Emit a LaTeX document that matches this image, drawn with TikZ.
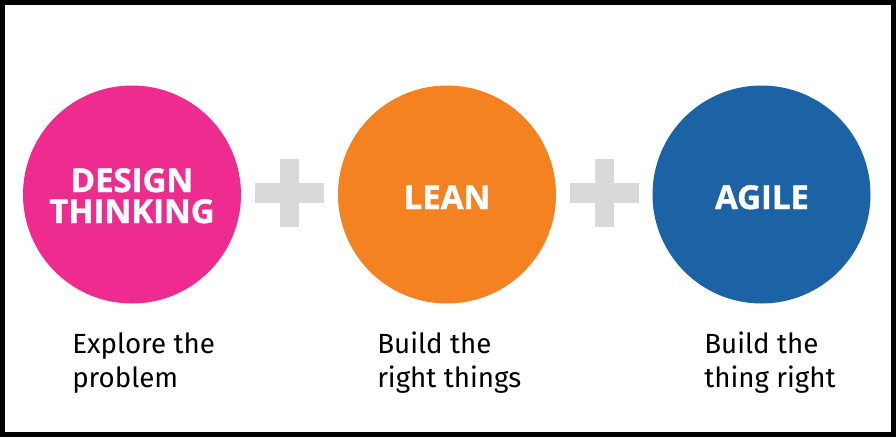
\documentclass[tikz,border=0pt]{standalone}
\usepackage{fontspec}
\setmainfont{Fira Sans}
\newfontfamily\headfont{Open Sans}[BoldFeatures={FakeBold=1.2}]
\definecolor{dtpink}{HTML}{EE2C8F}
\definecolor{leanorange}{HTML}{F58220}
\definecolor{agileblue}{HTML}{1B63A5}
\definecolor{plusgray}{HTML}{D9D9D9}
\begin{document}
\begin{tikzpicture}[x=0.75pt,y=-0.75pt,
  disc/.style={circle,inner sep=0pt,minimum size=163.5pt,draw=none},
  head/.style={text=white,font=\headfont\fontsize{24.7pt}{23.25pt}\selectfont\bfseries,align=center,inner sep=0pt},
  caption/.style={text=black,font=\fontsize{20.8pt}{25.5pt}\selectfont,align=left,inner sep=0pt,anchor=base west},
  plusbar/.style={fill=plusgray,draw=none}]
\useasboundingbox (0,0) rectangle (896,437);
\fill[white] (0,0) rectangle (896,437);
\draw[line width=3.75pt,black] (2.5,2.5) rectangle (893.5,434.5);
% circles
\node[disc,fill=dtpink] (dt) at (132,194.5) {};
\node[disc,fill=leanorange] (lean) at (447,194.5) {};
\node[disc,fill=agileblue] (agile) at (761.5,194.5) {};
% headings
\node[head,anchor=base] (dtl1) at (132,192) {DESIGN};
\node[head,anchor=base] (dtl2) at (132,223) {THINKING};
\node[head,anchor=base] (leanl) at (447,209) {LEAN};
\node[head,anchor=base] (agilel) at (762,209) {AGILE};
% plus signs
\coordinate (p1) at (289.5,193);
\coordinate (p2) at (604.5,193);
\foreach \p in {p1,p2}{
  \fill[plusbar] ([shift={(-34.5,-10)}]\p) rectangle ([shift={(34.5,10)}]\p);
  \fill[plusbar] ([shift={(-9.5,-34)}]\p) rectangle ([shift={(9.5,34)}]\p);
}
% captions
\node[caption] (c1a) at (72,353) {Explore the};
\node[caption] (c1b) at (72,387) {problem};
\node[caption] (c2a) at (377,353) {Build the};
\node[caption] (c2b) at (377,387) {right things};
\node[caption] (c3a) at (704,353) {Build the};
\node[caption] (c3b) at (704,387) {thing right};
\end{tikzpicture}
\end{document}
